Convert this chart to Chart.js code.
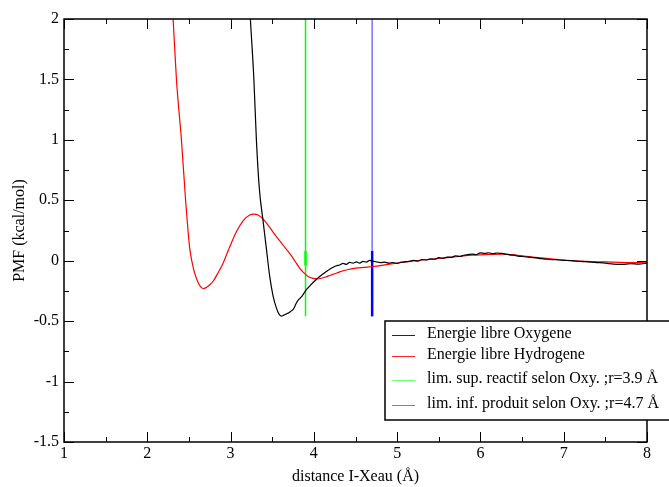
<!DOCTYPE html>
<html>
<head>
<meta charset="utf-8">
<script src="https://cdn.jsdelivr.net/npm/chart.js@4.4.1/dist/chart.umd.min.js"></script>
<style>
  html, body { margin: 0; padding: 0; background: #fff; }
  #wrap { width: 669px; height: 487px; position: relative; }
</style>
</head>
<body>
<div id="wrap"><canvas id="pmf"></canvas></div>
<script>
// --- donnees ---
const oxyX = [3.20, 3.238, 3.28, 3.31, 3.345, 3.39, 3.43, 3.47, 3.51, 3.55, 3.58, 3.61, 3.64, 3.67, 3.70,
  3.73, 3.75, 3.77, 3.79, 3.82, 3.85, 3.88, 3.91, 3.95, 3.99, 4.03, 4.07, 4.11, 4.15, 4.19,
  4.23, 4.27, 4.31, 4.35, 4.39, 4.43, 4.47, 4.51, 4.55, 4.59, 4.63, 4.67, 4.71, 4.75, 4.80,
  4.85, 4.90, 4.95, 5.00, 5.05, 5.10, 5.15, 5.20, 5.25, 5.30, 5.35, 5.40, 5.45, 5.50, 5.55,
  5.60, 5.65, 5.70, 5.75, 5.80, 5.85, 5.90, 5.95, 6.00, 6.05, 6.10, 6.15, 6.20, 6.25, 6.30,
  6.35, 6.40, 6.45, 6.50, 6.60, 6.70, 6.80, 6.90, 7.00, 7.10, 7.20, 7.30, 7.40, 7.50, 7.60,
  7.70, 7.80, 7.90, 8.00];
const oxyY = [2.50, 2.00, 1.50, 1.00, 0.60, 0.33, 0.10, -0.13, -0.29, -0.39, -0.44, -0.458, -0.45, -0.44, -0.43,
  -0.415, -0.405, -0.38, -0.35, -0.32, -0.30, -0.27, -0.24, -0.21, -0.18, -0.155, -0.13, -0.11, -0.09, -0.07,
  -0.055, -0.042, -0.035, -0.022, -0.03, -0.013, -0.02, -0.01, -0.02, -0.005, -0.012, 0.002, -0.003, -0.01, -0.015,
  -0.012, -0.02, -0.015, -0.022, -0.012, -0.008, -0.005, 0.002, -0.004, 0.01, 0.006, 0.015, 0.012, 0.025, 0.02,
  0.03, 0.028, 0.04, 0.035, 0.045, 0.05, 0.055, 0.05, 0.065, 0.06, 0.066, 0.058, 0.064, 0.06, 0.055,
  0.048, 0.046, 0.038, 0.035, 0.028, 0.02, 0.012, 0.008, 0.003, 0.0, -0.006, -0.01, -0.015, -0.02, -0.028,
  -0.03, -0.025, -0.028, -0.02];

const hydX = [2.28, 2.31, 2.35, 2.41, 2.46, 2.49, 2.51, 2.54, 2.57, 2.61, 2.64, 2.67, 2.70, 2.74, 2.79,
  2.85, 2.91, 2.99, 3.07, 3.15, 3.23, 3.28, 3.33, 3.41, 3.48, 3.55, 3.63, 3.71, 3.77, 3.83,
  3.88, 3.93, 3.99, 4.04, 4.09, 4.14, 4.20, 4.25, 4.31, 4.40, 4.50,
  4.60, 4.71, 4.85, 5.00, 5.15, 5.31, 5.50, 5.71, 5.90, 6.10, 6.27, 6.45, 6.70, 7.00, 7.25,
  7.50, 7.75, 8.00];
const hydY = [2.30, 2.00, 1.50, 1.00, 0.50, 0.24, 0.10, -0.02, -0.105, -0.18, -0.215, -0.23, -0.225, -0.205, -0.17,
  -0.10, -0.02, 0.115, 0.24, 0.33, 0.378, 0.385, 0.378, 0.33, 0.265, 0.20, 0.13, 0.06, 0.0, -0.063,
  -0.10, -0.13, -0.146, -0.15, -0.145, -0.135, -0.12, -0.108, -0.092, -0.075, -0.062,
  -0.055, -0.048, -0.035, -0.02, -0.005, 0.006, 0.02, 0.033, 0.045, 0.053, 0.055, 0.045, 0.025, 0.005, -0.005,
  -0.01, -0.015, -0.017];

const limSupR = 3.9;   // lim. sup. reactif
const limInfR = 4.7;   // lim. inf. produit
const limLineY = [-0.46, 2.0];
const limSupMarkY = [-0.04, 0.08];
const limInfMarkY = [-0.46, 0.08];

const seriesLabels = [
  'Energie libre Oxygene',
  'Energie libre Hydrogene',
  'lim. sup. reactif selon Oxy. ;r=3.9 Å',
  'lim. inf. produit selon Oxy. ;r=4.7 Å'
];
const seriesColors = ['#000000', '#ff0000', '#00ff00', '#0000ff'];

const xTicks = [1, 2, 3, 4, 5, 6, 7, 8];
const yTicks = [-1.5, -1, -0.5, 0, 0.5, 1, 1.5, 2];

const FONT = { family: '"Liberation Serif", "Times New Roman", serif', size: 16 };

const pts = (xs, ys) => xs.map((x, i) => ({ x, y: ys[i] }));
const vline = (x, ys) => ys.map(y => ({ x, y }));

// ticks internes sur les quatre cotes + cadre
const framePlugin = {
  id: 'frame',
  afterDatasetsDraw(chart) {
    const { ctx, chartArea: a, scales: { x, y } } = chart;
    ctx.save();
    ctx.strokeStyle = '#000';
    ctx.lineWidth = 1;
    for (let v = xTicks[0]; v <= xTicks[xTicks.length - 1] + 1e-9; v += 0.5) {
      const px = Math.round(x.getPixelForValue(v)) + 0.5;
      const len = Number.isInteger(v) ? 10 : 5;
      ctx.beginPath();
      ctx.moveTo(px, a.bottom); ctx.lineTo(px, a.bottom - len);
      ctx.moveTo(px, a.top); ctx.lineTo(px, a.top + len);
      ctx.stroke();
    }
    for (let v = yTicks[0]; v <= yTicks[yTicks.length - 1] + 1e-9; v += 0.25) {
      const py = Math.round(y.getPixelForValue(v)) + 0.5;
      const len = Math.abs(v * 2 - Math.round(v * 2)) < 1e-9 ? 10 : 5;
      ctx.beginPath();
      ctx.moveTo(a.left, py); ctx.lineTo(a.left + len, py);
      ctx.moveTo(a.right, py); ctx.lineTo(a.right - len, py);
      ctx.stroke();
    }
    ctx.lineWidth = 1.5;
    ctx.strokeRect(a.left, a.top, a.right - a.left, a.bottom - a.top);
    ctx.restore();
  }
};

// legende encadree en bas a droite
const legendBoxPlugin = {
  id: 'legendBox',
  afterDraw(chart) {
    const { ctx } = chart;
    const box = { left: 385, top: 321, right: 690, bottom: 420 };
    const rows = [335, 356, 380, 405];
    ctx.save();
    ctx.fillStyle = '#fff';
    ctx.fillRect(box.left, box.top, box.right - box.left, box.bottom - box.top);
    ctx.strokeStyle = '#000';
    ctx.lineWidth = 1.5;
    ctx.strokeRect(box.left, box.top, box.right - box.left, box.bottom - box.top);
    ctx.font = `${FONT.size}px ${FONT.family}`;
    ctx.textBaseline = 'middle';
    seriesLabels.forEach((lab, i) => {
      ctx.strokeStyle = seriesColors[i];
      ctx.globalAlpha = i >= 2 ? 0.55 : 0.85;
      ctx.lineWidth = 1;
      ctx.beginPath();
      ctx.moveTo(392, rows[i] + 0.5); ctx.lineTo(415, rows[i] + 0.5);
      ctx.stroke();
      ctx.globalAlpha = 1;
      ctx.fillStyle = '#000';
      ctx.fillText(lab, 427, rows[i] - 1);
    });
    ctx.restore();
  }
};

new Chart(document.getElementById('pmf'), {
  type: 'scatter',
  data: {
    datasets: [
      { label: seriesLabels[0], data: pts(oxyX, oxyY), borderColor: seriesColors[0], borderWidth: 1.2, cubicInterpolationMode: 'monotone' },
      { label: seriesLabels[1], data: pts(hydX, hydY), borderColor: seriesColors[1], borderWidth: 1.2, cubicInterpolationMode: 'monotone' },
      { label: seriesLabels[2], data: vline(limSupR, limLineY), borderColor: seriesColors[2], borderWidth: 1.5 },
      { label: seriesLabels[3], data: vline(limInfR, limLineY), borderColor: 'rgba(0,0,255,0.55)', borderWidth: 1.5 },
      { label: '', data: vline(limSupR, limSupMarkY), borderColor: seriesColors[2], borderWidth: 2.5 },
      { label: '', data: vline(limInfR, limInfMarkY), borderColor: seriesColors[3], borderWidth: 2.5 }
    ].map(d => Object.assign(d, { showLine: true, pointRadius: 0, fill: false }))
  },
  options: {
    responsive: true,
    maintainAspectRatio: false,
    animation: false,
    layout: { padding: { left: 0, top: 19, right: 22, bottom: 0 } },
    plugins: { legend: { display: false }, tooltip: { enabled: false } },
    scales: {
      x: {
        type: 'linear', min: 1, max: 8,
        afterBuildTicks: s => { s.ticks = xTicks.map(v => ({ value: v })); },
        afterFit: s => { s.height = 45; },
        grid: { display: false, drawTicks: false },
        border: { display: false },
        ticks: { font: FONT, color: '#000', padding: 2, maxRotation: 0, callback: v => String(v) },
        title: { display: true, text: 'distance I-Xeau (Å)', font: FONT, color: '#000', padding: { top: 0, bottom: 1 } }
      },
      y: {
        type: 'linear', min: -1.5, max: 2,
        afterBuildTicks: s => { s.ticks = yTicks.map(v => ({ value: v })); },
        afterFit: s => { s.width = 64; },
        grid: { display: false, drawTicks: false },
        border: { display: false },
        ticks: { font: FONT, color: '#000', padding: 5, callback: v => String(v) },
        title: { display: true, text: 'PMF (kcal/mol)', font: FONT, color: '#000', padding: { top: 10, bottom: 0 } }
      }
    }
  },
  plugins: [framePlugin, legendBoxPlugin]
});
</script>
</body>
</html>
